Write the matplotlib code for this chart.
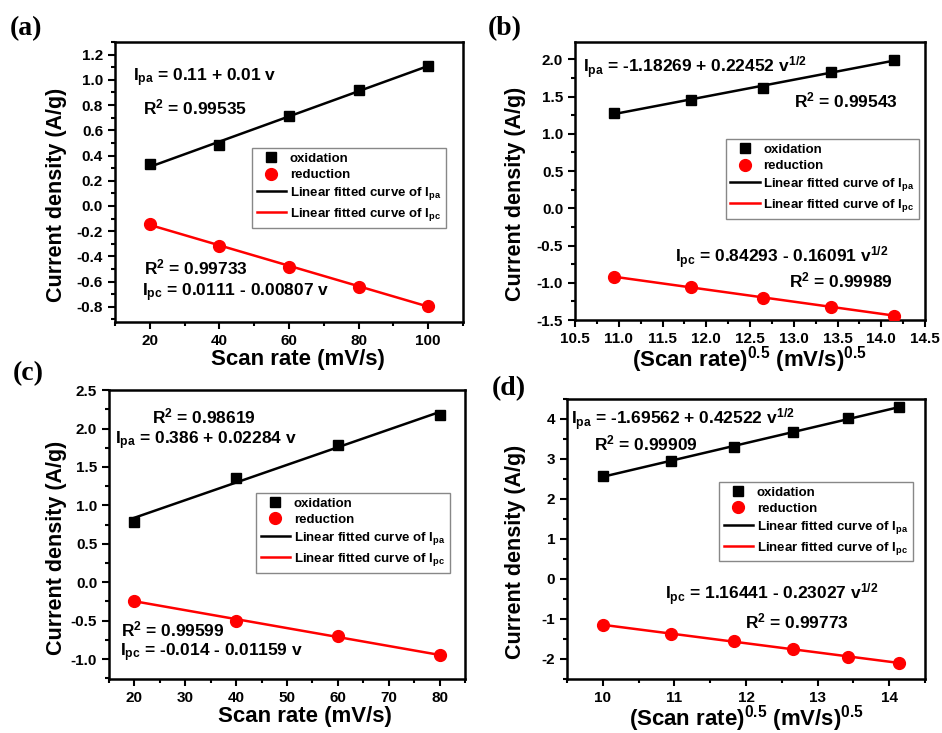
import numpy as np
import matplotlib
matplotlib.use('Agg')
import matplotlib.pyplot as plt
from matplotlib.ticker import MultipleLocator, FormatStrFormatter

plt.rcParams['font.family'] = ['Liberation Sans', 'DejaVu Sans']
plt.rcParams['font.weight'] = 'bold'
plt.rcParams['mathtext.fontset'] = 'custom'
plt.rcParams['mathtext.rm'] = 'Liberation Sans:bold'
plt.rcParams['mathtext.it'] = 'Liberation Sans:bold'
plt.rcParams['mathtext.bf'] = 'Liberation Sans:bold'
plt.rcParams['mathtext.default'] = 'rm'

# (a) scan rate vs current density
a_x = [20, 40, 60, 80, 100]
a_ox = [0.33, 0.48, 0.71, 0.92, 1.11]
a_red = [-0.14, -0.32, -0.48, -0.64, -0.79]

# (b) sqrt(scan rate)
b_x = [10.95, 11.83, 12.65, 13.42, 14.14]
b_ox = [1.28, 1.46, 1.62, 1.83, 1.99]
b_red = [-0.92, -1.06, -1.20, -1.32, -1.44]

# (c)
c_x = [20, 40, 60, 80]
c_ox = [0.79, 1.36, 1.78, 2.18]
c_red = [-0.24, -0.50, -0.70, -0.95]

# (d)
d_x = [10.0, 10.95, 11.83, 12.65, 13.42, 14.14]
d_ox = [2.57, 2.95, 3.30, 3.67, 4.02, 4.29]
d_red = [-1.15, -1.37, -1.55, -1.76, -1.94, -2.10]

lin_label = 'Scan rate (mV/s)'
sqrt_label = '(Scan rate)$^{0.5}$ (mV/s)$^{0.5}$'
y_label = 'Current density (A/g)'

panels = [
    dict(tag='(a)', tagpos=(10, 16), ylx=-0.138, xlc=(0.526, -0.095), x=a_x, ox=a_ox, red=a_red,
         pos=[0.122, 0.5607, 0.3695, 0.382],
         xlim=(10, 110), ylim=(-0.92, 1.3), xmaj=20, xmin=10, ymaj=0.2, ymin=0.1,
         xfmt='%d', yfmt='%.1f', xlabel=lin_label, leg=(0.394, 0.621),
         texts=[(15.2, 1.02, 'I$_{pa}$ = 0.11 + 0.01 v'),
                (18.0, 0.78, 'R$^{2}$ = 0.99535'),
                (18.4, -0.49, 'R$^{2}$ = 0.99733'),
                (17.7, -0.69, 'I$_{pc}$ = 0.0111 - 0.00807 v')]),
    dict(tag='(b)', tagpos=(488, 16), ylx=-0.14, xlc=None, x=b_x, ox=b_ox, red=b_red,
         pos=[0.6104, 0.5634, 0.3716, 0.379],
         xlim=(10.5, 14.5), ylim=(-1.5, 2.23), xmaj=0.5, xmin=0.25, ymaj=0.5, ymin=0.25,
         xfmt='%.1f', yfmt='%.1f', xlabel=sqrt_label, leg=(0.431, 0.651),
         texts=[(10.59, 1.89, 'I$_{pa}$ = -1.18269 + 0.22452 v$^{1/2}$'),
                (13.0, 1.45, 'R$^{2}$ = 0.99543'),
                (11.64, -0.66, 'I$_{pc}$ = 0.84293 - 0.16091 v$^{1/2}$'),
                (12.95, -0.97, 'R$^{2}$ = 0.99989')]),
    dict(tag='(c)', tagpos=(13, 361), ylx=-0.118, xlc=(0.55, -0.095), x=c_x, ox=c_ox, red=c_red,
         pos=[0.1157, 0.0737, 0.378, 0.394],
         xlim=(15, 85), ylim=(-1.26, 2.5), xmaj=10, xmin=5, ymaj=0.5, ymin=0.25,
         xfmt='%d', yfmt='%.1f', xlabel=lin_label, leg=(0.413, 0.644),
         texts=[(23.5, 2.16, 'R$^{2}$ = 0.98619'),
                (16.2, 1.84, 'I$_{pa}$ = 0.386 + 0.02284 v'),
                (17.4, -0.61, 'R$^{2}$ = 0.99599'),
                (17.2, -0.92, 'I$_{pc}$ = -0.014 - 0.01159 v')]),
    dict(tag='(d)', tagpos=(492, 376), ylx=-0.115, xlc=None, x=d_x, ox=d_ox, red=d_red,
         pos=[0.602, 0.0737, 0.380, 0.382],
         xlim=(9.5, 14.5), ylim=(-2.5, 4.5), xmaj=1, xmin=0.5, ymaj=1, ymin=0.5,
         xfmt='%d', yfmt='%d', xlabel=sqrt_label, leg=(0.425, 0.704),
         texts=[(9.56, 3.97, 'I$_{pa}$ = -1.69562 + 0.42522 v$^{1/2}$'),
                (9.88, 3.40, 'R$^{2}$ = 0.99909'),
                (10.87, -0.39, 'I$_{pc}$ = 1.16441 - 0.23027 v$^{1/2}$'),
                (11.98, -1.06, 'R$^{2}$ = 0.99773')]),
]

W, H = 942, 733
fig = plt.figure(figsize=(W / 100, H / 100), dpi=100)

for p in panels:
    ax = fig.add_axes(p['pos'])
    x = np.array(p['x'])
    ox = np.array(p['ox'])
    red = np.array(p['red'])

    k1, b1 = np.polyfit(x, ox, 1)
    k2, b2 = np.polyfit(x, red, 1)

    ax.plot(x, ox, 's', color='black', markersize=7.5, label='oxidation', zorder=3)
    ax.plot(x, red, 'o', color='red', markersize=8.5, label='reduction', zorder=3)
    ax.plot(x, k1 * x + b1, '-', color='black', lw=1.8, label='Linear fitted curve of I$_{pa}$')
    ax.plot(x, k2 * x + b2, '-', color='red', lw=1.8, label='Linear fitted curve of I$_{pc}$')

    ax.set_xlim(p['xlim'])
    ax.set_ylim(p['ylim'])
    ax.xaxis.set_major_locator(MultipleLocator(p['xmaj']))
    ax.xaxis.set_minor_locator(MultipleLocator(p['xmin']))
    ax.yaxis.set_major_locator(MultipleLocator(p['ymaj']))
    ax.yaxis.set_minor_locator(MultipleLocator(p['ymin']))
    ax.xaxis.set_major_formatter(FormatStrFormatter(p['xfmt']))
    ax.yaxis.set_major_formatter(FormatStrFormatter(p['yfmt']))
    ax.tick_params(which='both', direction='out', width=1.5, labelsize=11)
    ax.tick_params(which='major', length=5)
    ax.tick_params(which='minor', length=3)
    for s in ax.spines.values():
        s.set_linewidth(1.8)

    ax.set_xlabel(p['xlabel'], fontsize=16, fontweight='bold', labelpad=-1)
    if p['xlc'] is not None:
        ax.xaxis.set_label_coords(*p['xlc'])
    ax.set_ylabel(y_label, fontsize=15.5, fontweight='bold')
    ax.yaxis.set_label_coords(p['ylx'], 0.455)

    for tx, ty, s in p['texts']:
        ax.text(tx, ty, s, fontsize=12.5, fontweight='bold', va='center', ha='left')

    leg = ax.legend(loc='upper left', bbox_to_anchor=p['leg'], fontsize=9.5,
                    frameon=True, fancybox=False, edgecolor='#888888', framealpha=1,
                    handlelength=2.2, borderpad=0.35, labelspacing=0.3,
                    handletextpad=0.3, borderaxespad=0)
    leg.get_frame().set_linewidth(1.0)

    tx, ty = p['tagpos']
    fig.text(tx / W, 1 - ty / H, p['tag'], fontsize=20, fontweight='bold',
             family=['Liberation Serif', 'DejaVu Serif'], va='top', ha='left')

fig.savefig('out.png', dpi=100)
